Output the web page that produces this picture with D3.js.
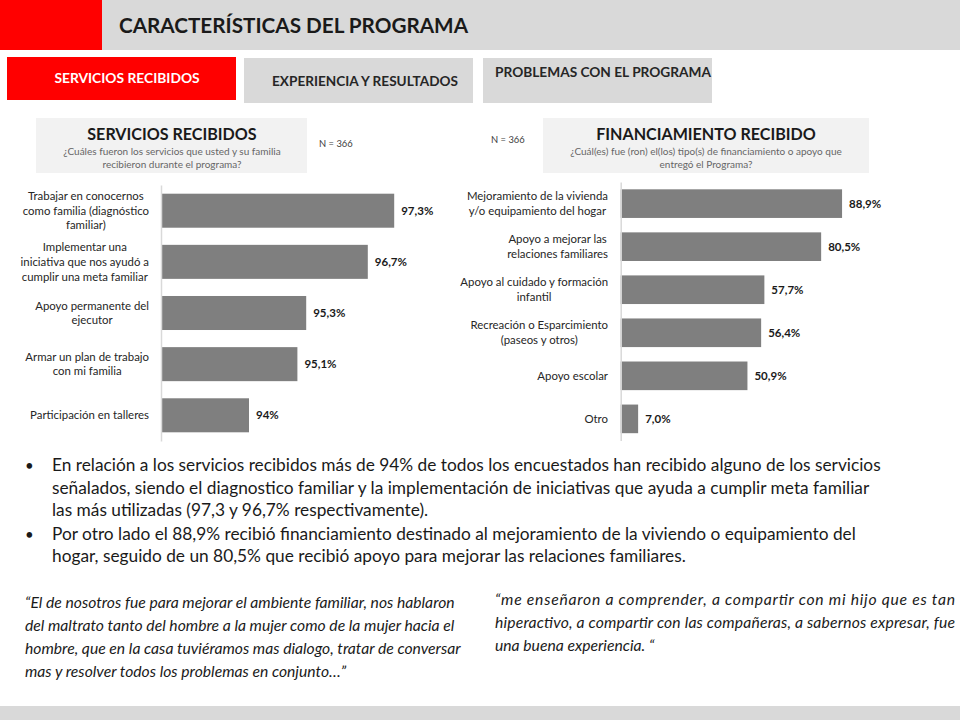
<!DOCTYPE html>
<html><head><meta charset="utf-8">
<script src="https://cdn.jsdelivr.net/npm/d3@7"></script>
<style>body{margin:0;background:#fff}svg{display:block}text{font-family:Lato,"Open Sans",sans-serif}</style>
</head><body>
<script>
// ---- data ----
const leftCategories = [
  ["Trabajar en conocernos","como familia (diagnóstico","familiar)"],
  ["Implementar una","iniciativa que nos ayudó a","cumplir una meta familiar"],
  ["Apoyo permanente del","ejecutor"],
  ["Armar un plan de trabajo","con mi familia"],
  ["Participación en talleres"]
];
const leftValues = [97.3, 96.7, 95.3, 95.1, 94];
const leftLabels = ["97,3%","96,7%","95,3%","95,1%","94%"];

const rightCategories = [
  ["Mejoramiento de la vivienda","y/o equipamiento del hogar"],
  ["Apoyo a mejorar las","relaciones familiares"],
  ["Apoyo al cuidado y formación","infantil"],
  ["Recreación o Esparcimiento","(paseos y otros)"],
  ["Apoyo escolar"],
  ["Otro"]
];
const rightValues = [88.9, 80.5, 57.7, 56.4, 50.9, 7.0];
const rightLabels = ["88,9%","80,5%","57,7%","56,4%","50,9%","7,0%"];

const tabs = ["SERVICIOS RECIBIDOS","EXPERIENCIA Y RESULTADOS","PROBLEMAS CON EL PROGRAMA"];

const bullets = [
  ["En relación a los servicios recibidos más de 94% de todos los encuestados han recibido alguno de los servicios",
   "señalados, siendo el diagnostico familiar y la implementación de iniciativas que ayuda a cumplir meta familiar",
   "las más utilizadas (97,3 y 96,7% respectivamente)."],
  ["Por otro lado el 88,9% recibió financiamiento destinado al mejoramiento de la viviendo o equipamiento del",
   "hogar, seguido de un 80,5% que recibió apoyo para mejorar las relaciones familiares."]
];
const quoteLeft = [
  "“El de nosotros fue para mejorar el ambiente familiar, nos hablaron",
  "del maltrato tanto del hombre a la mujer como de la mujer hacia el",
  "hombre, que en la casa tuviéramos mas dialogo, tratar de conversar",
  "mas y resolver todos los problemas en conjunto…”"
];
const quoteRight = [
  "“me enseñaron a comprender, a compartir con mi hijo que es tan",
  "hiperactivo, a compartir con las compañeras, a sabernos expresar, fue",
  "una buena experiencia. “"
];

// ---- drawing ----
const svg = d3.select("body").append("svg").attr("width",960).attr("height",720);

// header
svg.append("rect").attr("x",0).attr("y",0).attr("width",960).attr("height",50).attr("fill","#d9d9d9");
svg.append("rect").attr("x",0).attr("y",0).attr("width",102).attr("height",50).attr("fill","#ff0000");
svg.append("text").attr("x",119).attr("y",33).attr("font-size",20.7).attr("font-weight","bold")
  .attr("fill","#1a1a1a").text("CARACTERÍSTICAS DEL PROGRAMA");

// tabs
svg.append("rect").attr("x",7).attr("y",57).attr("width",229).attr("height",43).attr("fill","#ff0000");
svg.append("text").attr("x",127).attr("y",83).attr("text-anchor","middle").attr("font-size",13.8)
  .attr("font-weight","bold").attr("fill","#fff").text(tabs[0]);
svg.append("rect").attr("x",244).attr("y",58).attr("width",229).attr("height",45).attr("fill","#d9d9d9");
svg.append("text").attr("x",365).attr("y",86).attr("text-anchor","middle").attr("font-size",13.6)
  .attr("font-weight","bold").attr("fill","#262626").text(tabs[1]);
svg.append("rect").attr("x",483).attr("y",58).attr("width",229).attr("height",45).attr("fill","#d9d9d9");
svg.append("text").attr("x",495).attr("y",77).attr("font-size",13.7)
  .attr("font-weight","bold").attr("fill","#262626").text(tabs[2]);

// title boxes
function titleBox(x,w,title,sub,cx){
  svg.append("rect").attr("x",x).attr("y",118).attr("width",w).attr("height",55).attr("fill","#f2f2f2");
  svg.append("text").attr("x",cx).attr("y",140).attr("text-anchor","middle").attr("font-size",16.1)
    .attr("font-weight","bold").attr("fill","#1a1a1a").text(title);
  sub.forEach((s,i)=>svg.append("text").attr("x",cx).attr("y",155+i*12.5).attr("text-anchor","middle")
    .attr("font-size",10).attr("fill","#666666").text(s));
}
titleBox(36,271,"SERVICIOS RECIBIDOS",["¿Cuáles fueron los servicios que usted y su familia","recibieron durante el programa?"],172);
titleBox(543,326,"FINANCIAMIENTO RECIBIDO",["¿Cuál(es) fue (ron) el(los) tipo(s) de financiamiento o apoyo que","entregó el Programa?"],706);
svg.append("text").attr("x",319).attr("y",147).attr("font-size",9.4).attr("fill","#404040").text("N = 366");
svg.append("text").attr("x",491).attr("y",143).attr("font-size",9.4).attr("fill","#404040").text("N = 366");

// bar chart helper
function barChart(opts){
  const {cats, vals, labels, x0, x1, dom, y0, y1, labelRight} = opts;
  const idx = d3.range(vals.length);
  const x = d3.scaleLinear().domain(dom).range([x0,x1]);
  const y = d3.scaleBand().domain(idx).range([y0,y1]).paddingInner(0.335).paddingOuter(0.17);
  const g = svg.append("g");
  g.selectAll("rect.bar").data(idx).join("rect").attr("class","bar")
    .attr("x",x0).attr("y",i=>y(i)).attr("width",i=>x(vals[i])-x0).attr("height",y.bandwidth())
    .attr("fill","#7f7f7f");
  g.selectAll("text.val").data(idx).join("text").attr("class","val")
    .attr("x",i=>x(vals[i])+7).attr("y",i=>y(i)+y.bandwidth()/2+4)
    .attr("font-size",11.5).attr("font-weight","bold").attr("fill","#1a1a1a").text(i=>labels[i]);
  const ax = svg.append("g").attr("transform",`translate(${x0},0)`)
    .call(d3.axisLeft(y).tickSize(0).tickSizeOuter(0).tickFormat(""));
  ax.select(".domain").attr("stroke","#d9d9d9").attr("stroke-width",1.5);
  ax.selectAll(".tick").remove();
  const lh = 14.7;
  idx.forEach(i=>{
    const lines = cats[i];
    const t = g.append("text").attr("font-size",11.4).attr("fill","#262626").attr("text-anchor","middle");
    const cy = y(i)+y.bandwidth()/2;
    lines.forEach((l,k)=>t.append("tspan").attr("y",cy+(k-(lines.length-1)/2)*lh+4).text(l));
    let maxW = 0;
    t.selectAll("tspan").each(function(){maxW=Math.max(maxW,this.getComputedTextLength());});
    t.selectAll("tspan").attr("x",labelRight-maxW/2);
  });
}
barChart({cats:leftCategories, vals:leftValues, labels:leftLabels, x0:161, x1:513, dom:[92,100], y0:185, y1:441, labelRight:149});
barChart({cats:rightCategories, vals:rightValues, labels:rightLabels, x0:620.7, x1:869.7, dom:[0,100], y0:182, y1:440.5, labelRight:608});

// bullets
let by = 471;
bullets.forEach(par=>{
  svg.append("text").attr("x",25).attr("y",by).attr("font-size",15).attr("fill","#1a1a1a").text("•");
  par.forEach(line=>{
    svg.append("text").attr("x",52).attr("y",by).attr("font-size",17.3).attr("fill","#1a1a1a").text(line);
    by += 22.5;
  });
  by += 1;
});

// quotes
quoteLeft.forEach((l,i)=>svg.append("text").attr("x",25).attr("y",608+i*23).attr("font-size",15.7)
  .attr("font-style","italic").attr("fill","#1a1a1a").text(l));
quoteRight.forEach((l,i)=>{
  const t = svg.append("text").attr("x",495).attr("y",605+i*23).attr("font-size",15.7)
    .attr("font-style","italic").attr("fill","#1a1a1a").text(l);
  if(i<quoteRight.length-1) t.attr("textLength",460).attr("lengthAdjust","spacing");
});

// bottom band
svg.append("rect").attr("x",0).attr("y",706).attr("width",960).attr("height",14).attr("fill","#d9d9d9");
</script>
</body></html>
